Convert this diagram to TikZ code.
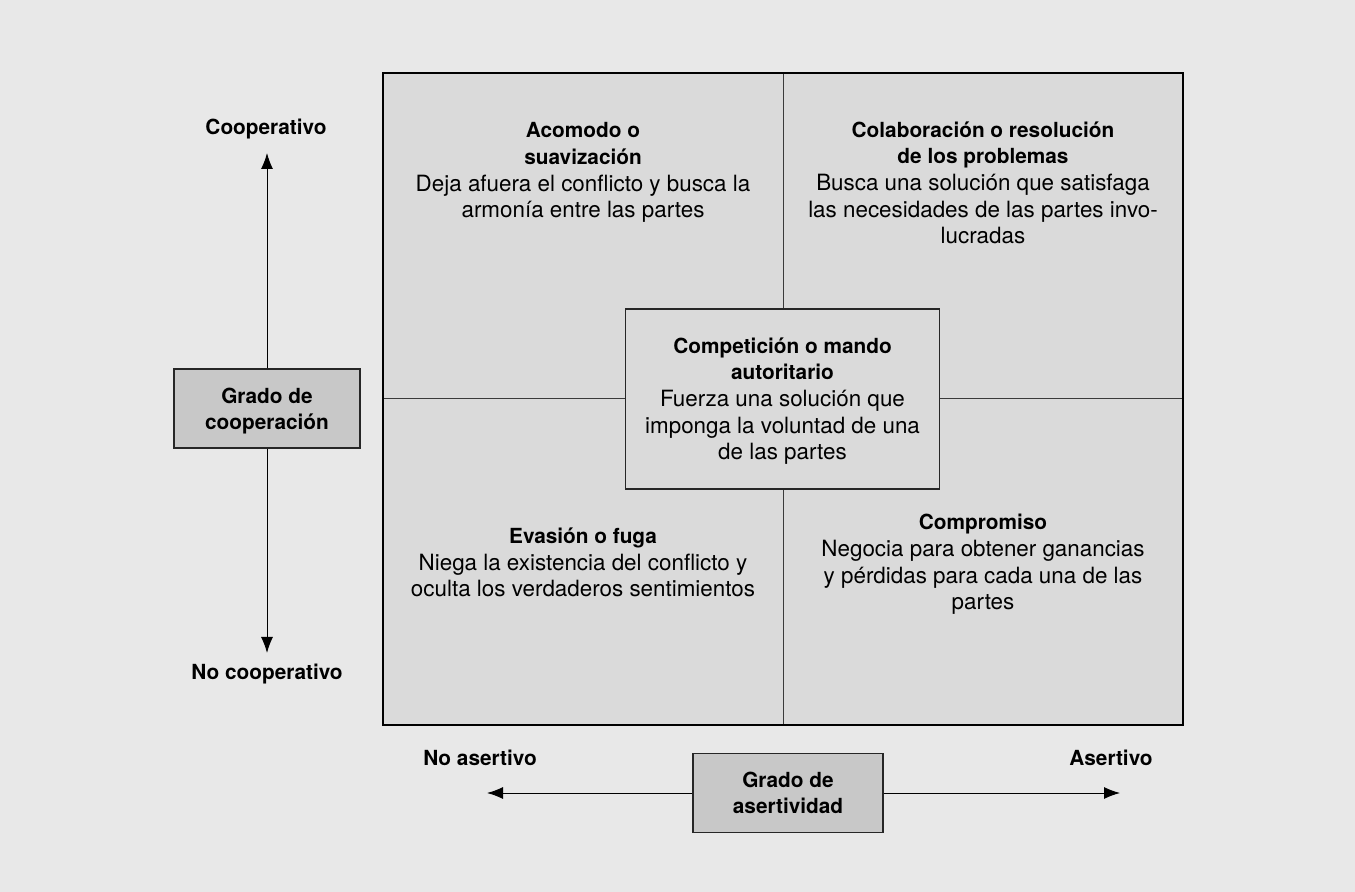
\documentclass[tikz,border=0pt]{standalone}
\usepackage{fontspec}
\setmainfont{TeX Gyre Heros}
\usetikzlibrary{positioning, arrows.meta}
\definecolor{bggray}{HTML}{E8E8E8}
\definecolor{quadgray}{HTML}{DADADA}
\definecolor{boxgray}{HTML}{C8C8C8}
\definecolor{linegray}{HTML}{3A3A3A}
\newcommand{\hd}[1]{{\fontsize{10.4}{13.35}\selectfont\bfseries #1}}

\begin{document}
\begin{tikzpicture}[x=0.5pt, y=-0.5pt, node distance=0pt,
  quad/.style={rectangle, draw=linegray, line width=0.5pt, fill=quadgray, outer sep=0pt, minimum width=200pt, minimum height=163pt},
  txt/.style={align=center, anchor=base, font=\fontsize{11.2}{13.35}\selectfont, inner sep=0pt},
  gbox/.style={rectangle, draw=black!85, line width=0.7pt, fill=boxgray, align=center, font=\fontsize{10.4}{13.35}\selectfont\bfseries},
  axis/.style={line width=0.5pt, -{Latex[length=8pt, width=6pt]}},
  axislbl/.style={anchor=base, font=\fontsize{10.4}{13.35}\selectfont\bfseries, inner sep=0pt}]
\path [fill=bggray, use as bounding box] (0,0) rectangle (1355,892);

% the four quadrants
\node (q1) [quad] at (583,236) {};
\node (q2) [quad, right=of q1] {};
\node (q3) [quad, below=of q1] {};
\node (q4) [quad, right=of q3] {};
\draw [line width=0.8pt] (q1.north west) rectangle (q4.south east);

% base anchor sits on the last line
\node (acomodo) [txt] at (583,218) {\hd{Acomodo o}\\\hd{suavización}\\Deja afuera el conflicto y busca la\\armonía entre las partes};
\node (colab) [txt] at (983,244) {\hd{Colaboración o resolución}\\\hd{de los problemas}\\Busca una solución que satisfaga\\las necesidades de las partes invo-\\lucradas};
\node (evasion) [txt] at (583,597) {\hd{Evasión o fuga}\\Niega la existencia del conflicto y\\oculta los verdaderos sentimientos};
\node (compr) [txt] at (983,610) {\hd{Compromiso}\\Negocia para obtener ganancias\\y pérdidas para cada una de las\\partes};

% center box
\node (comp) [quad, minimum width=157pt, minimum height=90pt, draw=black!85, line width=0.7pt] at (782.5,399) {};
\node (compTxt) [txt] at (782.5,460) {\hd{Competición o mando}\\\hd{autoritario}\\Fuerza una solución que\\imponga la voluntad de una\\de las partes};

% axes
\node (coop) [gbox, minimum width=93pt, minimum height=39.5pt] at (267,408.5) {};
\node (coopTxt) [txt, font=\fontsize{10.4}{13.35}\selectfont\bfseries] at (267,430) {Grado de\\cooperación};
\node (asert) [gbox, minimum width=95pt, minimum height=39.5pt] at (788,793) {Grado de\\asertividad};
\coordinate (coopTop) at (267,153);
\coordinate (coopBot) at (267,653);
\coordinate (asertL) at (487,793);
\coordinate (asertR) at (1120,793);
\path [axis]
     (coop) edge (coopTop)
     (coop) edge (coopBot)
     (asert) edge (asertL)
     (asert) edge (asertR);

\node (coopLbl) [axislbl] at (266,135) {Cooperativo};
\node (nocoopLbl) [axislbl] at (267,680) {No cooperativo};
\node (noasLbl) [axislbl] at (480,765) {No asertivo};
\node (asLbl) [axislbl] at (1111,765) {Asertivo};
\end{tikzpicture}
\end{document}
